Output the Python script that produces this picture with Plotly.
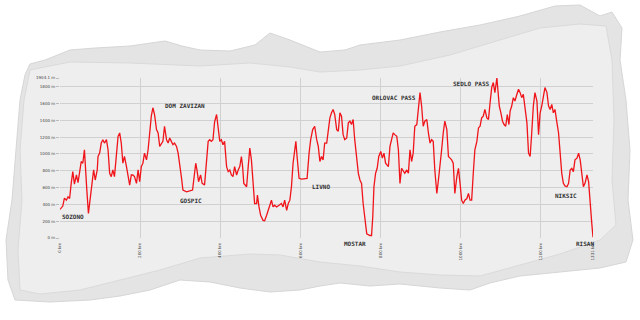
import plotly.graph_objects as go

# ---- data ----
distance_km = [0, 7, 11, 16, 20, 24, 28, 32, 36, 41, 45, 49, 53, 57, 61, 67, 71, 74, 79, 84, 88, 93, 95, 99,
               103, 107, 111, 116, 120, 124, 128, 132, 136, 141, 145, 149, 153, 157, 161, 166, 170, 174, 178,
               182, 186, 191, 195, 199, 203, 207, 211, 216, 220, 224, 228, 232, 236, 241, 245, 249, 253, 257,
               261, 266, 270, 274, 278, 282, 286, 291, 295, 299, 303, 307, 316, 324, 331, 334, 339, 342, 346,
               351, 355, 361, 366, 370, 374, 378, 382, 386, 391, 395, 399, 403, 407, 411, 416, 420, 424, 428,
               432, 436, 441, 445, 449, 453, 456, 459, 466, 470, 474, 478, 482, 486, 491, 493, 497, 501, 507,
               511, 516, 520, 524, 528, 532, 536, 541, 549, 553, 557, 561, 566, 570, 574, 578, 582, 586, 589,
               592, 597, 603, 611, 617, 622, 626, 631, 636, 641, 645, 649, 653, 657, 661, 666, 670, 674, 678,
               682, 686, 691, 695, 699, 703, 707, 711, 716, 720, 724, 728, 732, 736, 741, 745, 749, 753, 757,
               761, 766, 774, 778, 781, 784, 788, 792, 796, 801, 805, 809, 813, 820, 824, 828, 832, 836, 841,
               845, 849, 853, 857, 861, 866, 870, 874, 878, 882, 886, 891, 895, 899, 903, 907, 911, 916, 920,
               924, 928, 932, 936, 941, 945, 949, 953, 957, 961, 966, 970, 974, 978, 982, 986, 991, 995, 999,
               1003, 1007, 1011, 1016, 1020, 1024, 1028, 1032, 1036, 1041, 1045, 1049, 1053, 1057, 1061, 1066,
               1070, 1074, 1078, 1082, 1086, 1091, 1093, 1097, 1101, 1105, 1109, 1113, 1117, 1121, 1124, 1128,
               1132, 1136, 1141, 1145, 1149, 1153, 1157, 1161, 1166, 1170, 1174, 1178, 1182, 1186, 1191, 1195,
               1199, 1203, 1207, 1211, 1216, 1220, 1224, 1228, 1232, 1236, 1241, 1245, 1249, 1253, 1257, 1261,
               1266, 1270, 1274, 1278, 1282, 1286, 1291, 1295, 1299, 1303, 1307, 1311, 1316, 1320, 1324, 1328,
               1331]
elevation_m = [340, 380, 475, 450, 490, 470, 650, 790, 642, 750, 658, 770, 910, 890, 1050, 570, 292, 412, 650,
               810, 690, 810, 970, 1010, 1130, 1170, 1130, 1170, 1050, 770, 730, 810, 730, 950, 1210, 1250, 1130,
               890, 970, 850, 730, 630, 750, 750, 730, 650, 810, 670, 850, 890, 1010, 930, 1050, 1290, 1450, 1550,
               1470, 1290, 1250, 1090, 1130, 1150, 1330, 1170, 1130, 1190, 1150, 1110, 1130, 1090, 1010, 890, 730,
               570, 550, 560, 570, 690, 890, 810, 670, 750, 650, 630, 950, 1150, 1170, 1150, 1170, 1380, 1470,
               1340, 1150, 1170, 1110, 1150, 850, 790, 810, 750, 730, 850, 750, 810, 850, 970, 850, 650, 610, 850,
               1070, 930, 650, 410, 410, 510, 370, 270, 210, 205, 270, 330, 410, 450, 370, 390, 370, 390, 410, 370,
               450, 330, 410, 450, 610, 890, 1050, 1150, 970, 710, 700, 710, 710, 1010, 1170, 1290, 1330, 1170,
               1090, 910, 970, 930, 1130, 1130, 1290, 1430, 1490, 1530, 1470, 1290, 1270, 1490, 1450, 1230, 1170,
               1190, 1370, 1390, 1350, 1410, 1170, 930, 770, 690, 650, 410, 210, 50, 30, 30, 250, 610, 770, 830,
               970, 1030, 950, 1010, 890, 850, 1090, 1190, 1250, 1230, 1210, 1050, 650, 830, 790, 770, 810, 770,
               1050, 910, 1010, 1330, 1350, 1570, 1730, 1570, 1330, 1390, 1410, 1250, 1130, 1170, 1150, 810, 530,
               690, 850, 1050, 1250, 1390, 1290, 970, 950, 930, 890, 530, 730, 830, 650, 450, 410, 450, 470, 530,
               450, 450, 770, 1050, 1150, 1310, 1330, 1430, 1450, 1530, 1430, 1410, 1610, 1790, 1850, 1730, 1904,
               1770, 1570, 1490, 1390, 1350, 1330, 1470, 1350, 1510, 1570, 1670, 1630, 1710, 1770, 1730, 1670,
               1710, 1570, 1370, 1010, 970, 1250, 1570, 1730, 1630, 1230, 1490, 1570, 1690, 1790, 1730, 1570,
               1530, 1590, 1490, 1530, 1370, 1250, 1010, 770, 650, 620, 610, 650, 810, 830, 790, 930, 950, 1010,
               930, 730, 610, 650, 750, 670, 370, 170, 10]

place_names = ["SOZONO", "DOM ZAVIZAN", "GOSPIC", "LIVNO", "MOSTAR", "ORLOVAC PASS", "SEDLO PASS", "NIKSIC", "RISAN"]
place_km = [1, 256, 295, 624, 703, 775, 976, 1232, 1284]
place_label_m = [260, 1576, 443, 610, -60, 1676, 1840, 511, -67]

y_tick_vals = [0, 200, 400, 600, 800, 1000, 1200, 1400, 1600, 1800, 1904.1]
y_tick_text = ["0 m", "200 m", "400 m", "600 m", "800 m", "1000 m", "1200 m", "1400 m", "1600 m", "1800 m", "1904.1 m"]
x_tick_vals = [0, 200, 400, 600, 800, 1000, 1200, 1331]
x_tick_text = ["0 km", "200 km", "400 km", "600 km", "800 km", "1000 km", "1200 km", "1331 km"]

# ---- layout geometry (pixels) ----
W, H = 640, 320
L, R, T, B = 60, 47, 78, 82
PW, PH = W - L - R, H - T - B
Y_MAX = 1904.1


def px(xp, yp):
    return (xp - L) / PW, (H - B - yp) / PH


def path_from(points):
    parts = []
    for i, (a, b) in enumerate(points):
        x, y = px(a, b)
        parts.append(("M" if i == 0 else "L") + f"{x:.4f},{y:.4f}")
    return " ".join(parts) + " Z"


outer_paper = [(30, 64), (45, 60), (70, 50), (95, 48), (130, 46), (165, 41), (182, 46), (200, 50), (230, 51),
               (255, 45), (270, 33), (290, 40), (320, 52), (345, 50), (360, 45), (400, 40), (440, 32), (480, 25),
               (520, 16), (555, 6), (580, 5), (600, 16), (612, 12), (622, 28), (620, 60), (626, 100), (630, 150),
               (628, 200), (633, 240), (626, 262), (600, 268), (560, 272), (520, 276), (490, 283), (470, 290),
               (440, 288), (400, 284), (370, 286), (340, 283), (320, 286), (300, 290), (270, 292), (240, 288),
               (210, 282), (180, 280), (150, 290), (120, 296), (90, 300), (50, 302), (15, 300), (8, 280),
               (6, 240), (12, 200), (16, 150), (20, 100), (25, 75)]
inner_paper = [(30, 70), (70, 62), (130, 63), (200, 66), (250, 63), (290, 67), (320, 72), (360, 70), (400, 66),
               (450, 55), (500, 40), (540, 28), (580, 24), (606, 26), (612, 60), (614, 120), (612, 180), (616, 225),
               (600, 240), (560, 254), (520, 265), (480, 276), (440, 275), (400, 272), (360, 266), (320, 262),
               (280, 255), (250, 254), (200, 258), (160, 270), (120, 280), (80, 290), (40, 294), (20, 290),
               (18, 250), (22, 200), (20, 150), (24, 100)]

shapes = [
    dict(type="path", xref="paper", yref="paper", path=path_from(outer_paper),
         fillcolor="#e4e4e4", line=dict(color="#d6d6d6", width=1), layer="below"),
    dict(type="path", xref="paper", yref="paper", path=path_from(inner_paper),
         fillcolor="#eeeeee", line=dict(color="#dadada", width=1), layer="below"),
]

fig = go.Figure()
fig.add_trace(go.Scatter(x=distance_km, y=elevation_m, mode="lines",
                         line=dict(color="#f0141a", width=1.3), hoverinfo="skip", showlegend=False))

annotations = []
for name, xk, ym in zip(place_names, place_km, place_label_m):
    if ym < 0:
        y_val, shift = 0, ym / Y_MAX * PH
    else:
        y_val, shift = ym, 0
    annotations.append(dict(x=xk, y=y_val, xref="x", yref="y", yshift=shift, text=f"<b>{name}</b>",
                            showarrow=False, xanchor="left", yanchor="middle",
                            font=dict(family="DejaVu Sans Mono", size=6, color="#333333")))

fig.update_layout(
    width=W, height=H,
    margin=dict(l=L, r=R, t=T, b=B, pad=0),
    paper_bgcolor="#ffffff",
    plot_bgcolor="rgba(0,0,0,0)",
    shapes=shapes,
    annotations=annotations,
    xaxis=dict(range=[0, 1331], tickvals=x_tick_vals, ticktext=x_tick_text, tickangle=-90,
               showgrid=True, gridcolor="#d0d0d0", gridwidth=1, zeroline=False, showline=False,
               ticks="", tickfont=dict(family="DejaVu Sans", size=4, color="#444444"), ticklabelstandoff=3),
    yaxis=dict(range=[0, Y_MAX], tickvals=y_tick_vals, ticktext=y_tick_text,
               showgrid=True, gridcolor="#d0d0d0", gridwidth=1, zeroline=False, showline=False,
               ticks="outside", ticklen=3, tickcolor="#bbbbbb",
               tickfont=dict(family="DejaVu Sans", size=4, color="#444444")),
)

fig.write_html("out.html")
